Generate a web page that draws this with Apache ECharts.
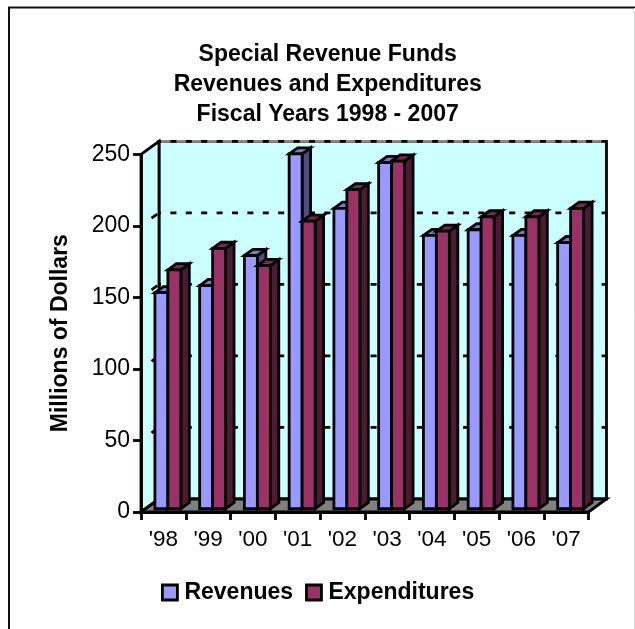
<!DOCTYPE html>
<html>
<head>
<meta charset="utf-8">
<style>html,body{margin:0;padding:0;background:#fff}#chart{width:635px;height:629px}</style>
<script src="https://cdn.jsdelivr.net/npm/echarts@6/dist/echarts.min.js"></script>
</head>
<body>
<div id="chart"></div>
<script>
const fiscalYears = ["'98", "'99", "'00", "'01", "'02", "'03", "'04", "'05", "'06", "'07"];
const revenues = [151, 156, 177, 248, 210, 242, 191, 195, 191, 186];
const expenditures = [167, 182, 170, 201, 223, 243, 194, 204, 204, 210];
const gridValues = [50, 100, 150, 200, 250];

// Oblique projection of the chart box: how far the back plane sits from the front plane.
const BOX_DX = 18, BOX_DY = -13;
const BAR_FRONT = 0.25, BAR_BACK = 0.72, BAR_BAND = 0.29;
const font = 'Liberation Sans, Arial, sans-serif';
const edge = { stroke: '#000', lineWidth: 2.8, lineJoin: 'miter' };

function poly(points, fill) {
  return { type: 'polygon', shape: { points }, style: { fill, ...edge } };
}

function renderBox(params, api) {
  const lo = api.coord([0, 0]);
  const hi = api.coord([0, 250]);
  const band = api.size([1, 0])[0];
  const x0 = lo[0] - band / 2, x1 = x0 + band * fiscalYears.length;
  const y0 = lo[1], y1 = hi[1];
  const dx = BOX_DX, dy = BOX_DY;
  const kids = [
    poly([[x0 + dx, y1 + dy], [x1 + dx, y1 + dy], [x1 + dx, y0 + dy], [x0 + dx, y0 + dy]], '#CCFFFF'),
    poly([[x0, y1], [x0 + dx, y1 + dy], [x0 + dx, y0 + dy], [x0, y0]], '#CCFFFF'),
    poly([[x0, y0], [x0 + dx, y0 + dy], [x1 + dx, y0 + dy], [x1, y0]], '#808080')
  ];
  const dash = { stroke: '#000', lineWidth: 2.8, lineDash: [6, 9.4], lineDashOffset: 4 };
  gridValues.forEach(v => {
    const y = api.coord([0, v])[1] + dy;
    if (v === 250) {
      kids.push({ type: 'line', shape: { x1: x0 + dx, y1: y, x2: x1 + dx, y2: y }, style: { stroke: '#888', lineWidth: 2.8 } });
    } else {
      // Only one short dash of each grid line shows on the side wall.
      kids.push({ type: 'line', shape: { x1: x0, y1: y - dy, x2: x0 + dx, y2: y }, style: { stroke: '#000', lineWidth: 2.8, lineDash: [7, 40], lineDashOffset: -13 } });
    }
    kids.push({ type: 'line', shape: { x1: x0 + dx, y1: y, x2: x1 + dx, y2: y }, style: dash });
  });
  return { type: 'group', children: kids };
}

function barRenderer(seriesIndex, colors) {
  return function (params, api) {
    const p = api.coord([api.value(0), api.value(1)]);
    const base = api.coord([api.value(0), 0]);
    const band = api.size([1, 0])[0];
    const w = band * BAR_BAND;
    const fx = BOX_DX * BAR_FRONT, fy = BOX_DY * BAR_FRONT;
    const bx = BOX_DX * BAR_BACK, by = BOX_DY * BAR_BACK;
    const l = p[0] + (seriesIndex === 0 ? -w : 0) + fx;
    const r = l + w;
    const top = p[1] + fy, bottom = base[1] + fy;
    const ox = bx - fx, oy = by - fy;
    return {
      type: 'group',
      children: [
        poly([[r, top], [r + ox, top + oy], [r + ox, bottom + oy], [r, bottom]], colors.side),
        poly([[l, top], [l + ox, top + oy], [r + ox, top + oy], [r, top]], colors.top),
        poly([[l, top], [r, top], [r, bottom], [l, bottom]], colors.front)
      ]
    };
  };
}

const revenueColors = { front: '#9999FF', side: '#4D4D80', top: '#7A7ACC' };
const expenditureColors = { front: '#993366', side: '#4D1A33', top: '#7A2952' };

const chart = echarts.init(document.getElementById('chart'), null, { renderer: 'canvas' });
chart.setOption({
  animation: false,
  backgroundColor: '#fff',
  title: {
    text: 'Special Revenue Funds\nRevenues and Expenditures\nFiscal Years 1998 - 2007',
    left: 322.7, top: 35, textAlign: 'center',
    textStyle: { fontFamily: font, fontSize: 23, fontWeight: 'bold', color: '#000', lineHeight: 30 }
  },
  legend: {
    data: [
      { name: 'Revenues', itemStyle: { color: revenueColors.front, borderColor: '#000', borderWidth: 2.8 } },
      { name: 'Expenditures', itemStyle: { color: expenditureColors.front, borderColor: '#000', borderWidth: 2.8 } }
    ],
    left: 156, top: 576, icon: 'rect', itemWidth: 15, itemHeight: 15, itemGap: 12,
    selectedMode: false,
    textStyle: { fontFamily: font, fontSize: 23, fontWeight: 'bold', color: '#000', padding: [0, 0, 0, 2] }
  },
  grid: { left: 141, right: 46.5, top: 154.3, bottom: 117 },
  xAxis: {
    type: 'category',
    data: fiscalYears,
    axisLine: { show: true, lineStyle: { color: '#000', width: 2.8 } },
    axisTick: { show: true, alignWithLabel: false, length: 8, lineStyle: { color: '#000', width: 2.8 } },
    axisLabel: { color: '#000', fontFamily: font, fontSize: 22.5, margin: 16, interval: 0 },
    z: 5
  },
  yAxis: {
    type: 'value', min: 0, max: 250, interval: 50,
    name: 'Millions of Dollars', nameLocation: 'middle', nameGap: 69, nameRotate: 90,
    nameTextStyle: { fontFamily: font, fontSize: 23, fontWeight: 'bold', color: '#000' },
    splitLine: { show: false },
    axisLine: { show: true, lineStyle: { color: '#000', width: 2.8 } },
    axisTick: { show: true, length: 8, lineStyle: { color: '#000', width: 2.8 } },
    axisLabel: { color: '#000', fontFamily: font, fontSize: 23, margin: 11 },
    z: 5
  },
  series: [
    { type: 'custom', name: 'box', silent: true, z: 1, data: [[0, 0]], renderItem: renderBox, encode: { x: 0, y: 1 } },
    { type: 'custom', name: 'Revenues', z: 2, data: revenues.map((v, i) => [i, v]), renderItem: barRenderer(0, revenueColors), encode: { x: 0, y: 1 }, itemStyle: { color: revenueColors.front } },
    { type: 'custom', name: 'Expenditures', z: 2, data: expenditures.map((v, i) => [i, v]), renderItem: barRenderer(1, expenditureColors), encode: { x: 0, y: 1 }, itemStyle: { color: expenditureColors.front } }
  ],
  graphic: [
    { type: 'polyline', shape: { points: [[9, 629], [9, 7.5], [635, 7.5]] }, style: { stroke: '#111', lineWidth: 2, fill: null } },
    { type: 'line', shape: { x1: 634.5, y1: 8, x2: 634.5, y2: 629 }, style: { stroke: '#ddd', lineWidth: 1 } }
  ]
});
</script>
</body>
</html>
